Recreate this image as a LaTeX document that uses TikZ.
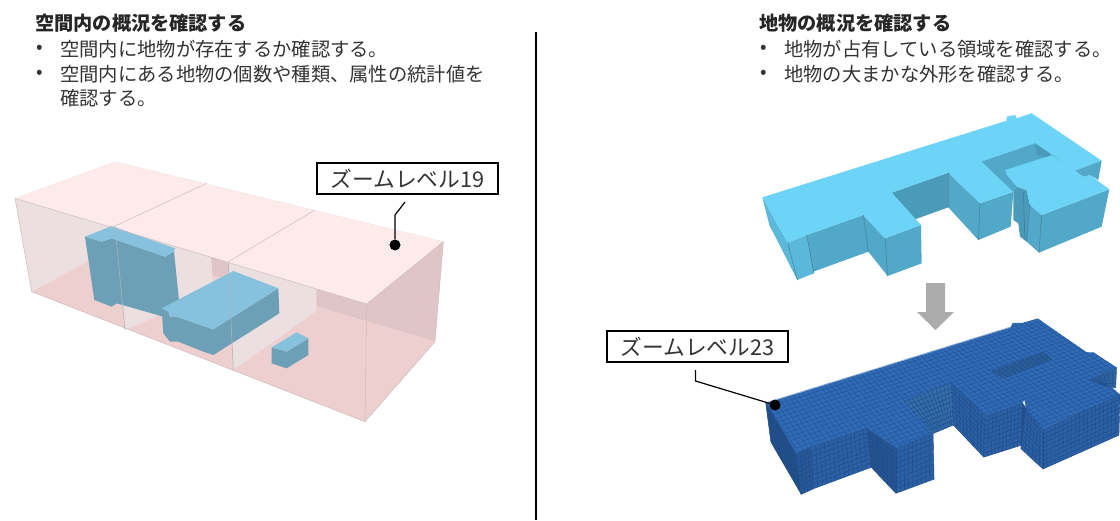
\documentclass[tikz,border=0pt]{standalone}
\usepackage{fontspec}
\setmainfont{Noto Sans CJK JP}
\usetikzlibrary{calc}

\definecolor{voxelwall}{HTML}{EBDFDF}
\definecolor{voxelback}{HTML}{DFC5C7}
\definecolor{voxelfloor}{HTML}{EECFD0}
\definecolor{voxeltop}{HTML}{FDEAEA}
\definecolor{voxeledge}{HTML}{CDBBBD}
\definecolor{paletop}{HTML}{86C2DE}
\definecolor{paleside}{HTML}{6D9FB6}
\definecolor{skytop}{HTML}{6DD3F7}
\definecolor{skyside}{HTML}{52A8C8}
\definecolor{skylight}{HTML}{5CB8DA}
\definecolor{skydark}{HTML}{4A9ABA}
\definecolor{cubetop}{HTML}{306BB7}
\definecolor{cubeside}{HTML}{2B60A6}
\definecolor{cubeline}{HTML}{1F4A84}

\tikzset{
    headtext/.style={anchor=west, inner sep=0pt, font=\fontsize{19.2}{24}\selectfont\bfseries, text=black!85},
    listtext/.style={anchor=west, inner sep=0pt, font=\fontsize{19.3}{24}\selectfont, text=black!80},
    zoomlabel/.style={draw=black, line width=1.2pt, fill=white, inner sep=0pt, font=\fontsize{21.7}{26}\selectfont, text=black!80},
    leaderdot/.style={circle, fill=black, inner sep=0pt, minimum size=11pt},
    leaderline/.style={line width=1.2pt, black}
}

\newcommand{\voxface}[6]{%
    \fill[#6] #1 -- #2 -- #3 -- #4 -- cycle;
    \foreach \cellu in {0,...,#5} {
        \pgfmathsetmacro\posu{\cellu/#5}
        \draw[cubeline, line width=0.4pt] ($#1!\posu!#2$) -- ($#4!\posu!#3$);
    }
    \foreach \cellv in {0,...,9} {
        \pgfmathsetmacro\posv{\cellv/9}
        \draw[cubeline, line width=0.4pt] ($#1!\posv!#4$) -- ($#2!\posv!#3$);
    }
}

\begin{document}
\begin{tikzpicture}[x=1pt, y=-1pt]
    \useasboundingbox (0,0) rectangle (1120,520);
    \fill[white] (0,0) rectangle (1120,520);

    \draw[black, line width=1.4pt] (536,32) -- (536,520);

    \node[headtext] (headleft) at (35,23) {空間内の概況を確認する};
    \node[listtext] (bulletleftone) at (36,49) {•};
    \node[listtext] (itemleftone) at (60,49) {空間内に地物が存在するか確認する。};
    \node[listtext] (bulletlefttwo) at (36,74) {•};
    \node[listtext] (itemlefttwo) at (60,74) {空間内にある地物の個数や種類、属性の統計値を};
    \node[listtext] (itemleftthree) at (60,98) {確認する。};

    \node[headtext] (headright) at (759,23) {地物の概況を確認する};
    \node[listtext] (bulletrightone) at (760,49) {•};
    \node[listtext] (itemrightone) at (784,49) {地物が占有している領域を確認する。};
    \node[listtext] (bulletrighttwo) at (760,74) {•};
    \node[listtext] (itemrighttwo) at (784,74) {地物の大まかな外形を確認する。};

    % pink voxels, coordinates read from the zoomed crop
    \begin{scope}[shift={(0,140)}, scale=1/3]
        \fill[voxelwall] (45,175) -- (345,65) -- (345,320) -- (95,455) -- cycle;
        \fill[voxelback] (345,65) -- (1330,305) -- (1305,605) -- (345,320) -- cycle;
        \fill[voxelfloor] (95,455) -- (345,320) -- (1305,605) -- (1095,845) -- cycle;
        \fill[voxelwall] (345,258) -- (620,130) -- (640,455) -- (375,570) -- cycle;
        \fill[voxelwall] (685,365) -- (945,210) -- (950,512) -- (700,690) -- cycle;
        \fill[voxeltop] (45,175) -- (345,65) -- (1330,305) -- (1100,492) -- cycle;

        \fill[paleside] (255,290) -- (305,305) -- (335,295) -- (495,350) -- (522,335) -- (537,480)
            -- (490,530) -- (350,490) -- (335,500) -- (283,480) -- cycle;
        \fill[paletop] (255,290) -- (335,258) -- (525,325) -- (522,335) -- (495,350) -- (335,295) -- (305,305) -- cycle;
        \fill[paleside] (485,505) -- (505,515) -- (510,530) -- (530,530) -- (615,560) -- (640,568) -- (835,445) -- (838,520)
            -- (640,645) -- (610,635) -- (535,605) -- (510,605) -- (490,580) -- cycle;
        \fill[paletop] (485,505) -- (700,393) -- (835,445) -- (640,568) -- (615,560) -- (530,530)
            -- (510,530) -- (505,515) -- cycle;
        \fill[paleside] (815,622) -- (860,635) -- (925,595) -- (925,645) -- (860,685) -- (815,670) -- cycle;
        \fill[paletop] (815,622) -- (890,577) -- (925,595) -- (860,635) -- cycle;

        \draw[voxeledge, line width=0.5pt] (345,258) -- (620,130) (685,365) -- (945,210);
        \draw[voxeledge, line width=0.5pt] (45,175) -- (95,455) -- (1095,845) -- (1100,492) -- cycle;
        \draw[voxeledge, line width=0.5pt] (1100,492) -- (1330,305) -- (1305,605) -- (1095,845);
        \draw[voxeledge!70!paleside, line width=0.6pt] (345,258) -- (375,570) (685,365) -- (700,690);
    \end{scope}

    % light blue building
    \begin{scope}[shift={(740,100)}, scale=1/3]
        \fill[skylight] (67,292) -- (143,428) -- (172,540) -- (88,375) -- cycle;
        \fill[skylight] (143,428) -- (200,405) -- (222,520) -- (172,540) -- cycle;
        \fill[skyside] (200,405) -- (370,345) -- (385,455) -- (220,515) -- cycle;
        \fill[skyside] (370,345) -- (435,415) -- (443,528) -- (385,455) -- cycle;
        \fill[skyside] (435,415) -- (543,375) -- (545,490) -- (443,528) -- cycle;
        \fill[skydark] (455,278) -- (625,218) -- (625,322) -- (525,358) -- cycle;
        \fill[skyside] (625,218) -- (720,310) -- (715,420) -- (625,322) -- cycle;
        \fill[skyside] (720,310) -- (820,275) -- (812,380) -- (715,420) -- cycle;
        \fill[skydark] (820,275) -- (830,260) -- (860,270) -- (870,315) -- (860,425) -- (840,410)
            -- (835,370) -- (820,360) -- cycle;
        \fill[skyside] (870,315) -- (905,345) -- (897,458) -- (860,425) -- cycle;
        \fill[skyside] (905,345) -- (1108,268) -- (1085,380) -- (897,458) -- cycle;
        \fill[skytop] (67,292) -- (800,62) -- (800,50) -- (825,45) -- (830,55) -- (875,40) -- (1085,182)
            -- (1005,212) -- (1030,230) -- (1050,225) -- (1108,268) -- (905,345) -- (870,315)
            -- (860,270) -- (830,260) -- (820,275) -- (720,310) -- (625,218) -- (455,278) -- (543,375)
            -- (435,415) -- (370,345) -- (200,405) -- (143,428) -- cycle;
        \fill[skyside] (725,185) -- (885,130) -- (970,187) -- (935,165) -- (795,210) -- (800,225)
            -- (830,260) -- (820,275) -- cycle;
        \fill[skydark] (885,130) -- (890,165) -- (915,172) -- (935,165) -- cycle;
        \fill[skyside] (1005,212) -- (1085,182) -- (1075,240) -- (1050,225) -- (1030,230) -- cycle;
        \draw[skydark!80!black, line width=0.5pt] (370,345) -- (385,455) (435,415) -- (443,528)
            (625,218) -- (625,322) (720,310) -- (715,420) (905,345) -- (897,458)
            (200,405) -- (222,520) (143,428) -- (172,540) (850,275) -- (855,420) (870,315) -- (860,425);
    \end{scope}

    % grey arrow between the two buildings
    \fill[black!33] (926,283) -- (945,283) -- (945,312) -- (954,312) -- (935.5,330) -- (917,312) -- (926,312) -- cycle;

    % blue building made of cubes
    \begin{scope}[shift={(590,300)}, scale=0.338]
        \begin{scope}
            \clip (520,305) -- (1245,80) -- (1250,68) -- (1280,68) -- (1325,55) -- (1470,155) -- (1490,155)
                -- (1558,200) -- (1480,235) -- (1510,250) -- (1530,245) -- (1568,280) -- (1340,385)
                -- (1290,320) -- (1285,295) -- (1280,305) -- (1170,345) -- (1070,245) -- (930,300)
                -- (1015,395) -- (905,440) -- (820,380) -- (655,435) -- (610,455) -- cycle;
            \fill[cubetop] (500,0) rectangle (1600,620);
            \foreach \cellu in {0,...,60} {
                \pgfmathsetmacro\posu{\cellu/60}
                \draw[cubeline!70!cubetop, line width=0.4pt] ($(520,305)!\posu!(1325,55)$) -- ($(720,605)!\posu!(1650,257)$);
            }
            \foreach \cellv in {0,...,27} {
                \pgfmathsetmacro\posv{\cellv/27}
                \draw[cubeline!70!cubetop, line width=0.4pt] ($(520,305)!\posv!(720,605)$) -- ($(1325,55)!\posv!(1650,257)$);
            }
        \end{scope}
        \draw[cubetop!55!white, dash pattern=on 3pt off 1pt, line width=1pt] (528,302) -- (1245,80);
        \voxface{(520,305)}{(610,455)}{(625,575)}{(535,420)}{12}{cubeside!85!black}
        \voxface{(610,455)}{(655,435)}{(662,558)}{(625,575)}{4}{cubeside!92!black}
        \voxface{(655,435)}{(820,380)}{(832,495)}{(662,558)}{13}{cubeside}
        \voxface{(820,380)}{(905,440)}{(905,572)}{(832,495)}{6}{cubeside!88!black}
        \voxface{(905,440)}{(1015,395)}{(1018,530)}{(905,572)}{9}{cubeside}
        \voxface{(930,300)}{(1070,245)}{(1075,370)}{(1015,395)}{12}{cubeside!75!skydark}
        \voxface{(1070,245)}{(1170,345)}{(1165,465)}{(1075,370)}{9}{cubeside}
        \voxface{(1170,345)}{(1280,305)}{(1275,430)}{(1165,465)}{10}{cubeside}
        \voxface{(1280,305)}{(1290,320)}{(1275,440)}{(1275,430)}{1}{cubeside!85!black}
        \voxface{(1290,320)}{(1340,385)}{(1340,500)}{(1275,440)}{6}{cubeside}
        \voxface{(1340,385)}{(1568,280)}{(1565,400)}{(1340,500)}{19}{cubeside}
        \voxface{(1190,210)}{(1340,155)}{(1365,175)}{(1225,232)}{12}{cubeside!75!skydark}
        \voxface{(1480,235)}{(1558,200)}{(1555,260)}{(1510,250)}{6}{cubeside!75!skydark}
    \end{scope}

    \node[zoomlabel, minimum width=181pt, minimum height=31pt] (zoomnineteen) at (407.5,178.5) {ズームレベル19};
    \node[leaderdot] (dotnineteen) at (395,245) {};
    \coordinate (startnineteen) at (405,202);
    \coordinate (bendnineteen) at (395,215);
    \draw[leaderline] (startnineteen) -- (bendnineteen) -- (dotnineteen);

    \node[zoomlabel, minimum width=181pt, minimum height=31pt] (zoomtwentythree) at (697.5,346.5) {ズームレベル23};
    \node[leaderdot] (dottwentythree) at (775,405) {};
    \coordinate (starttwentythree) at (695.5,370);
    \coordinate (bendtwentythree) at (695.5,381);
    \draw[leaderline] (starttwentythree) -- (bendtwentythree) -- (dottwentythree);
\end{tikzpicture}
\end{document}
